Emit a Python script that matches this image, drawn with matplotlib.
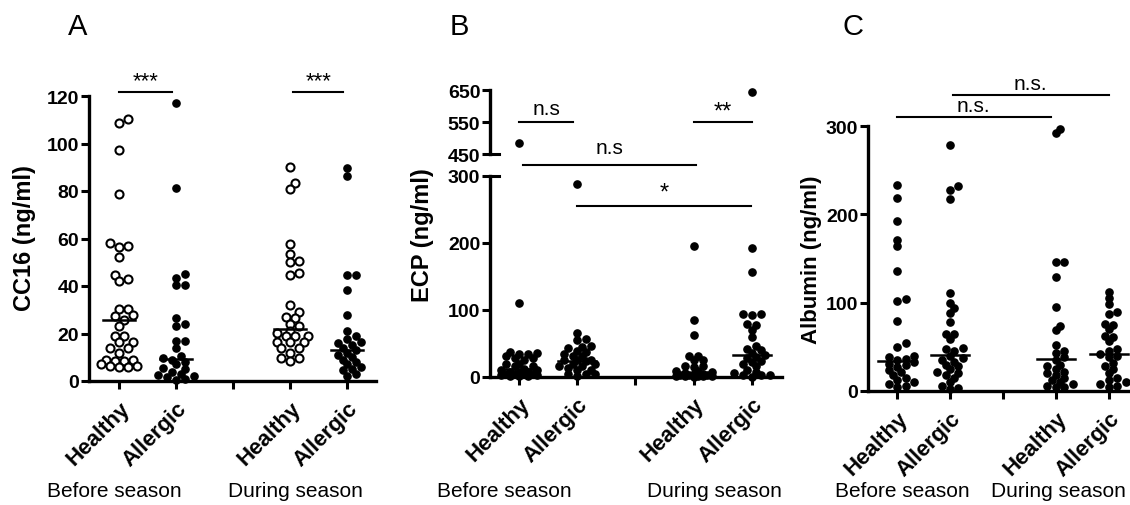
import numpy as np
import matplotlib.pyplot as plt

plt.rcParams['font.family'] = ['Liberation Sans', 'DejaVu Sans']

W, H = 1130, 506

groups = ['Healthy', 'Allergic', '', 'Healthy', 'Allergic']
seasons = ['Before season', 'During season']

# CC16 (ng/ml)
cc16_healthy_before = [110.2, 108.5, 97.1, 78.6, 58.2, 56.8, 56.4, 52.3, 44.8, 43.1, 42.1,
                       30.2, 30.2, 27.6, 27.4, 25.5, 23.2, 19, 19, 16.4, 16.4, 14, 14, 12,
                       9, 9, 8.5, 8.5, 7, 6.5, 6.5, 6, 6]
cc16_allergic_before = [116.9, 81.4, 44.9, 43.5, 40.4, 40.4, 26.7, 23.9, 23.2, 16.8, 16.8,
                        14, 10.5, 9.5, 9, 8, 7, 5.5, 5, 4, 3, 2.5, 2, 1.5, 1, 0.5]
cc16_healthy_during = [90.1, 83.5, 80.7, 57.8, 53.3, 50.5, 50.1, 45.3, 44.5, 31.9, 29, 27,
                       26.5, 24, 23, 21, 20.4, 19, 19, 19, 16.4, 16.4, 16.4, 14, 14, 12,
                       9.8, 9.8, 8.4]
cc16_allergic_during = [89.8, 86.3, 44.5, 44.5, 38.3, 27.6, 21, 19, 17.5, 16.5, 16, 15, 14,
                        13, 12, 11, 10, 9, 8, 7, 6, 5, 4.5, 3, 2]
cc16_medians = [25.5, 9.1, 22.0, 13.0]

# ECP (ng/ml)
ecp_healthy_before = [484, 111, 37, 36, 34, 34, 31, 29, 29, 26, 19, 19, 17, 16, 12, 11, 11,
                      8, 7, 6, 5, 4, 4, 4, 3, 3, 2, 2, 1]
ecp_allergic_before = [287.6, 65, 57, 55, 46, 45, 44, 39, 37, 34, 32, 31, 26, 25, 25, 24,
                       20, 19, 17, 16, 14, 11, 11, 4, 4, 4, 2]
ecp_healthy_during = [194.8, 85, 62, 32, 32, 25, 25, 17, 16, 15, 9, 9, 7, 6, 5, 4, 3, 2.5,
                      2.5, 2, 2, 1.5, 1, 1, 0.5]
ecp_allergic_during = [645, 192.9, 157, 94.5, 94.5, 92, 79, 77, 70, 60, 47, 42, 40, 36, 33,
                       30, 28, 24, 22, 19, 16, 11, 7, 6, 2.5, 2.5, 2.5, 0.5]
ecp_medians = [11.4, 23.3, 6.4, 33.2]

# Albumin (ng/ml)
alb_healthy_before = [232.7, 218.7, 193, 171.4, 163.8, 136.2, 104, 101.4, 78.7, 54, 50.3,
                      40, 38, 36, 35, 33, 31, 29, 27, 24, 21, 18, 15, 12, 10, 8, 6, 5]
alb_allergic_before = [278, 231.6, 228, 217.5, 110.9, 100, 93.8, 88, 77.6, 64, 64, 59.4, 49,
                       48, 45, 40, 37, 35, 33, 30, 28, 25, 22, 20, 18, 15, 10, 5.7, 3.8, 2]
alb_healthy_during = [297, 292, 146.4, 146.4, 128.6, 94.6, 73.8, 68.9, 52.2, 45.4, 43.5, 38,
                      35, 30, 28, 25, 22, 20, 18, 15, 12, 10, 8, 6, 5, 4]
alb_allergic_during = [112.4, 104.8, 98.4, 88.9, 87, 75.7, 74.5, 70, 62.4, 61.3, 56.8, 48,
                       45, 42, 40, 38, 32, 28, 25, 20, 15, 12, 10, 8, 6, 5]
alb_medians = [34.0, 41.2, 35.9, 41.6]

positions = [1, 2, 4, 5]

fig = plt.figure(figsize=(W / 100, H / 100), dpi=100)


def px_axes(left, top, right, bottom):
    return fig.add_axes([left / W, 1 - bottom / H, (right - left) / W, (bottom - top) / H])


def style(ax, bottom=True):
    for s in ['top', 'right']:
        ax.spines[s].set_visible(False)
    ax.spines['left'].set_linewidth(2.4)
    ax.spines['bottom'].set_linewidth(2.4)
    ax.tick_params(width=2.2, length=6, labelsize=14, pad=1)
    for lab in ax.get_yticklabels():
        lab.set_fontweight('bold')
    if not bottom:
        ax.spines['bottom'].set_visible(False)
        ax.set_xticks([])


def swarm(ax, x0, vals, step=4.5, thresh=6.0, kmax=4):
    # beeswarm in pixel space, lowest values placed first; spread capped at kmax steps
    vals = np.asarray(vals, float)
    pts = ax.transData.transform(np.column_stack([np.full(len(vals), x0), vals]))
    placed = []
    xs = pts[:, 0].copy()
    cands = [0] + [s * k for k in range(1, kmax + 1) for s in (1, -1)]
    for i in np.argsort(vals):
        y = pts[i, 1]
        best, best_d = 0, -1
        for k in cands:
            dx = k * step
            d = min([np.hypot(dx - px, y - py) for px, py in placed] or [99])
            if d >= thresh:
                best = dx
                break
            if d > best_d:
                best, best_d = dx, d
        placed.append((best, y))
        xs[i] += best
    return ax.transData.inverted().transform(np.column_stack([xs, pts[:, 1]]))[:, 0]


def draw_group(ax, x0, vals, hollow, step=4.5, thresh=6.0, kmax=4):
    xs = swarm(ax, x0, vals, step, thresh, kmax)
    if hollow:
        ax.plot(xs, vals, 'o', ms=5.8, mfc='white', mec='black', mew=1.5, ls='none', clip_on=False)
    else:
        ax.plot(xs, vals, 'o', ms=5.2, color='black', ls='none', clip_on=False)


def median_line(ax, x0, m, half):
    ax.plot([x0 - half, x0 + half], [m, m], color='black', lw=1.8, clip_on=False, zorder=5)


def bracket(ax, x1, x2, y, text, ty, size=15):
    ax.plot([x1, x2], [y, y], color='black', lw=1.5, clip_on=False)
    ax.text((x1 + x2) / 2, ty, text, ha='center', va='center', fontsize=size)


def xlabels(ax):
    ax.set_xticks([1, 2, 3, 4, 5])
    ax.set_xticklabels(groups, rotation=45, ha='right', va='top', rotation_mode='anchor',
                       fontsize=16, fontweight='bold')
    ax.tick_params(axis='x', pad=6)


# ---- A: CC16
axA = px_axes(89, 97, 376, 382)
axA.set_xlim(0.47, 5.5)
axA.set_ylim(0, 120)
axA.set_yticks([0, 20, 40, 60, 80, 100, 120])
style(axA)
xlabels(axA)
for x0, vals, hollow in zip(positions,
                            [cc16_healthy_before, cc16_allergic_before,
                             cc16_healthy_during, cc16_allergic_during],
                            [True, False, True, False]):
    draw_group(axA, x0, vals, hollow, step=4.5, thresh=7.0 if hollow else 6.0, kmax=4)
for x0, m in zip(positions, cc16_medians):
    median_line(axA, x0, m, 0.28)
bracket(axA, 1.0, 1.93, 121.7, '***', 126.5, size=16)
bracket(axA, 4.05, 4.93, 121.7, '***', 126.5, size=16)

# ---- B: ECP, broken axis
axB = px_axes(490, 177, 782, 378)
axB2 = px_axes(490, 91, 782, 155)
for ax in (axB, axB2):
    ax.set_xlim(0.5, 5.52)
axB.set_ylim(0, 300)
axB.set_yticks([0, 100, 200, 300])
axB2.set_ylim(450, 650)
axB2.set_yticks([450, 550, 650])
style(axB)
style(axB2, bottom=False)
xlabels(axB)
axB2.patch.set_visible(False)
ecp_groups = [ecp_healthy_before, ecp_allergic_before, ecp_healthy_during, ecp_allergic_during]
for x0, vals in zip(positions, ecp_groups):
    low = [v for v in vals if v <= 300]
    high = [v for v in vals if v > 300]
    draw_group(axB, x0, low, False, step=4.5, thresh=6.0, kmax=4)
    if high:
        axB2.plot([x0] * len(high), high, 'o', ms=5.2, color='black', clip_on=False)
for x0, m in zip(positions, ecp_medians):
    median_line(axB, x0, m, 0.33)
# break marks on the axis
axB.plot([0, 0.03], [1, 1], transform=axB.transAxes, color='black', lw=2.2, clip_on=False)
axB2.plot([0, 0.03], [0, 0], transform=axB2.transAxes, color='black', lw=2.2, clip_on=False)
bracket(axB2, 1.0, 1.93, 550, 'n.s', 592)
bracket(axB2, 4.0, 5.0, 550, '**', 583, size=17)
bracket(axB2, 1.07, 4.04, 416, 'n.s', 470)
bracket(axB, 2.0, 4.98, 255, '*', 275, size=17)

# ---- C: Albumin
axC = px_axes(868, 127, 1130, 392)
axC.set_xlim(0.45, 5.4)
axC.set_ylim(0, 300)
axC.set_yticks([0, 100, 200, 300])
style(axC)
xlabels(axC)
for x0, vals in zip(positions, [alb_healthy_before, alb_allergic_before,
                                alb_healthy_during, alb_allergic_during]):
    draw_group(axC, x0, vals, False, step=4.2, thresh=5.5, kmax=4)
for x0, m in zip(positions, alb_medians):
    median_line(axC, x0, m, 0.36)
bracket(axC, 1.0, 3.9, 310, 'n.s.', 323)
bracket(axC, 2.05, 5.0, 335, 'n.s.', 348)

# y labels
fig.text(25 / W, 1 - 238 / H, 'CC16 (ng/ml)', rotation=90, ha='center', va='center',
         fontsize=17, fontweight='bold')
fig.text(423 / W, 1 - 235 / H, 'ECP (ng/ml)', rotation=90, ha='center', va='center',
         fontsize=17, fontweight='bold')
fig.text(812 / W, 1 - 260 / H, 'Albumin (ng/ml)', rotation=90, ha='center', va='center',
         fontsize=16, fontweight='bold')

# season labels under each pair
for xpx, txt in zip([114, 295, 504, 714, 902, 1058], seasons * 3):
    fig.text(xpx / W, 1 - 492 / H, txt, ha='center', va='center', fontsize=15)

# panel letters
for xpx, letter in zip([78, 459, 853], ['A', 'B', 'C']):
    fig.text(xpx / W, 1 - 27 / H, letter, ha='center', va='center', fontsize=21)

fig.savefig('out.png', dpi=100)
